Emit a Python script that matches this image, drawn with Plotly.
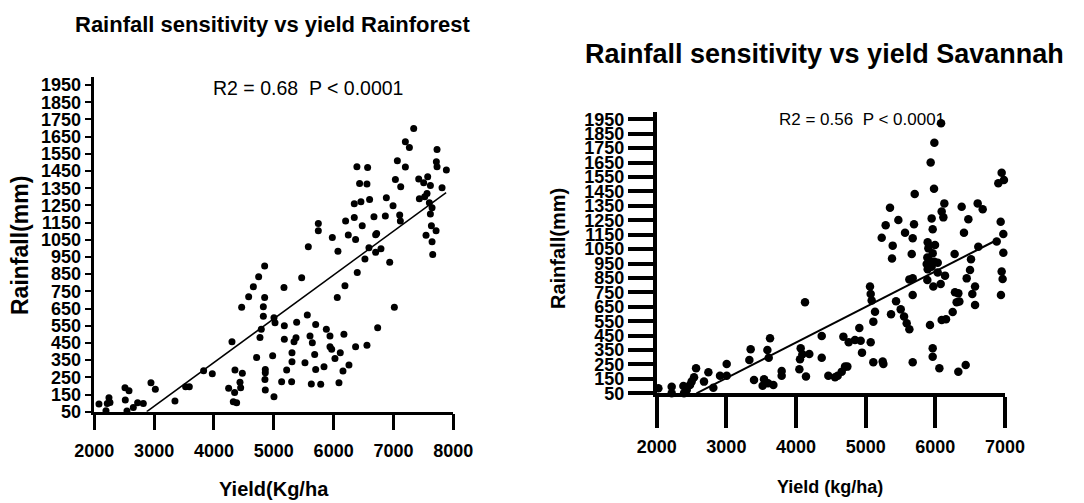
import plotly.graph_objects as go

# ---- Rainforest zone: yield (kg/ha) against rainfall (mm) ----
rf_yield = [
    2078, 2195, 2217, 2245, 2262, 2513, 2580, 2518, 2546, 2652,
    2724, 2819, 2947, 3020, 3348, 3526, 3588, 3827, 3972, 4301,
    4245, 4345, 4323, 4379, 4351, 4435, 4446, 4474, 4463, 4580,
    4658, 4747, 4847, 4847, 4825, 4825, 4791, 4769, 4713, 4858,
    4858, 4852, 4858, 4981, 5003, 5003, 5020, 5170, 5176, 5176,
    5131, 5215, 5298, 5304, 5304, 5338, 5371, 5382, 5466, 5521,
    5560, 5577, 5605, 5627, 5644, 5683, 5700, 5700, 5744, 5744,
    5784, 5839, 5878, 5939, 5939, 5967, 5978, 6022, 6061, 6072,
    6089, 6111, 6156, 6172, 6189, 6200, 6245, 6256, 6345, 6345,
    6367, 6367, 6395, 6389, 6434, 6456, 6478, 6523, 6557, 6568,
    6557, 6601, 6590, 6674, 6702, 6719, 6702, 6736, 6791, 6864,
    6881, 6937, 6993, 7015, 7032, 7065, 7104, 7115, 7121, 7199,
    7199, 7266, 7338, 7422, 7433, 7505, 7522, 7544, 7572, 7561,
    7600, 7617, 7617, 7634, 7645, 7656, 7645, 7712, 7728, 7717,
    7728, 7812, 7884,
]
rf_rain = [
    95, 56, 98, 131, 104, 190, 172, 118, 54, 75,
    102, 98, 219, 180, 112, 195, 195, 288, 271, 457,
    186, 162, 108, 102, 292, 221, 190, 273, 657, 719,
    777, 835, 897, 715, 661, 606, 529, 482, 366, 296,
    277, 238, 176, 376, 137, 597, 568, 773, 550, 471,
    224, 292, 224, 341, 393, 457, 480, 570, 829, 335,
    612, 1010, 490, 211, 451, 383, 558, 296, 1145, 1103,
    209, 312, 529, 490, 428, 413, 1064, 360, 715, 984,
    219, 393, 287, 500, 783, 1159, 1078, 321, 1260, 1180,
    1052, 428, 860, 1475, 1378, 1271, 1132, 938, 436, 1471,
    1374, 1285, 1004, 1184, 1080, 1087, 977, 539, 998, 1188,
    1295, 919, 1248, 657, 1401, 1510, 1194, 1159, 1359, 1473,
    1620, 1587, 1698, 1403, 1289, 1382, 1301, 1076, 1417, 1320,
    1266, 1366, 1200, 1132, 1039, 965, 1237, 1103, 1576, 1504,
    1475, 1353, 1456,
]

# ---- Savannah zone ----
sv_yield = [
    2024, 2215, 2215, 2383, 2392, 2431, 2478, 2502, 2536, 2565,
    2679, 2742, 2813, 2909, 3005, 3005, 3330, 3349, 3397, 3521,
    3541, 3589, 3608, 3598, 3627, 3675, 3794, 3794, 4048, 4057,
    4067, 4091, 4129, 4143, 4191, 4369, 4369, 4464, 4560, 4598,
    4656, 4704, 4737, 4680, 4756, 4847, 4928, 4909, 4947, 5072,
    5110, 5254, 5244, 5062, 5072, 5086, 5134, 5110, 5230, 5287,
    5349, 5388, 5378, 5364, 5436, 5469, 5503, 5551, 5565, 5589,
    5627, 5675, 5661, 5675, 5694, 5704, 5675, 5627, 5675, 5933,
    5986, 6082, 5981, 6129, 5947, 6091, 6115, 5962, 5890, 5995,
    5900, 5962, 5885, 5923, 5986, 5876, 5947, 5890, 6034, 5885,
    5971, 6034, 6139, 6077, 5923, 5962, 5962, 6058, 6091, 6153,
    6249, 6282, 6306, 6330, 6345, 6277, 6378, 6411, 6474, 6450,
    6498, 6512, 6531, 6570, 6570, 6617, 6608, 6680, 6330, 6436,
    6881, 6904, 6952, 6985, 6938, 6976, 6976, 6952, 6966, 6942,
]
sv_rain = [
    85, 96, 50, 101, 50, 73, 108, 131, 161, 223,
    131, 196, 89, 172, 253, 172, 281, 355, 142, 103,
    147, 350, 297, 119, 431, 108, 205, 172, 216, 286,
    362, 320, 681, 166, 323, 448, 297, 172, 161, 172,
    200, 235, 235, 443, 404, 420, 415, 503, 332, 404,
    265, 253, 270, 790, 739, 693, 616, 547, 1129, 1215,
    1337, 1074, 984, 598, 688, 1252, 632, 582, 1164, 535,
    840, 847, 1016, 1125, 1222, 1432, 732, 494, 265, 1650,
    1788, 1922, 1469, 1367, 1263, 1310, 1270, 1187, 1097, 1079,
    1055, 1021, 991, 968, 963, 947, 928, 910, 956, 836,
    790, 887, 866, 808, 524, 362, 304, 223, 559, 563,
    614, 750, 681, 743, 686, 1016, 1344, 1164, 1257, 847,
    905, 979, 739, 790, 663, 1067, 1367, 1326, 200, 246,
    1102, 1506, 1580, 1529, 1240, 1155, 1025, 894, 843, 732,
]

# Linear fits (end points of the fitted lines)
rf_fit_yield = [2876, 7880]
rf_fit_rain = [50, 1324]
sv_fit_yield = [2571, 6833]
sv_fit_rain = [50, 1101]

rain_ticks = list(range(50, 2000, 100))
rf_yield_ticks = [2000, 3000, 4000, 5000, 6000, 7000, 8000]
sv_yield_ticks = [2000, 3000, 4000, 5000, 6000, 7000]

rf_stats = "R2 = 0.68  P < 0.0001"
sv_stats = "R2 = 0.56  P < 0.0001"

SANS = "Liberation Sans, Arial, sans-serif"
W, H = 1084, 503


def px(x):
    return x / W


def py(y):
    return 1 - y / H


fig = go.Figure()

fig.add_trace(go.Scatter(x=rf_yield, y=rf_rain, mode="markers", xaxis="x", yaxis="y",
                         marker=dict(color="black", size=7), cliponaxis=False))
fig.add_trace(go.Scatter(x=rf_fit_yield, y=rf_fit_rain, mode="lines", xaxis="x", yaxis="y",
                         line=dict(color="black", width=1.5)))
fig.add_trace(go.Scatter(x=sv_yield, y=sv_rain, mode="markers", xaxis="x2", yaxis="y2",
                         marker=dict(color="black", size=8.5), cliponaxis=False))
fig.add_trace(go.Scatter(x=sv_fit_yield, y=sv_fit_rain, mode="lines", xaxis="x2", yaxis="y2",
                         line=dict(color="black", width=2)))

tick_font = dict(family=SANS, size=18, color="black", weight="bold")
common = dict(showline=True, linecolor="black", ticks="outside", tickcolor="black",
              showgrid=False, zeroline=False, tickfont=tick_font, automargin=False)

fig.update_layout(
    width=W, height=H, autosize=False,
    margin=dict(l=0, r=0, t=0, b=0, autoexpand=False),
    paper_bgcolor="white", plot_bgcolor="white",
    showlegend=False,
    xaxis=dict(domain=[px(94.3), px(453.3)], range=[2000, 8000], anchor="y",
               tickvals=rf_yield_ticks, linewidth=2.5, ticklen=16, tickwidth=2.5,
               ticklabelstandoff=5, **common),
    yaxis=dict(domain=[py(411.7), py(76.5)], range=[50, 2000], anchor="x",
               tickvals=rain_ticks, linewidth=2.5, ticklen=7, tickwidth=2, **common),
    xaxis2=dict(domain=[px(656.7), px(1005)], range=[2000, 7000], anchor="y2",
                tickvals=sv_yield_ticks, linewidth=3.5, ticklen=31, tickwidth=3.5,
                ticklabelstandoff=3, **common),
    yaxis2=dict(domain=[py(393.3), py(112.1)], range=[50, 2000], anchor="x2",
                tickvals=rain_ticks, linewidth=3.5, ticklen=25, tickwidth=3.5, **common),
)


def label(text, x, y, size, bold=False, angle=0):
    fig.add_annotation(text=text, x=px(x), y=py(y), xref="paper", yref="paper",
                       xanchor="center", yanchor="middle", showarrow=False, textangle=angle,
                       font=dict(family=SANS, size=size, color="black",
                                 weight="bold" if bold else "normal"))


label("Rainfall sensitivity vs yield Rainforest", 273, 25, 22, bold=True)
label("Rainfall sensitivity vs yield Savannah", 824, 54, 27, bold=True)
label(rf_stats, 308, 88, 19.5)
label(sv_stats, 862, 120, 17)
label("Yield(Kg/ha", 274, 489, 20, bold=True)
label("Yield (kg/ha)", 830, 487, 18, bold=True)
label("Rainfall(mm)", 20, 246, 23, bold=True, angle=-90)
label("Rainfall(mm)", 558, 249, 20, bold=True, angle=-90)

fig.write_html("out.html")
